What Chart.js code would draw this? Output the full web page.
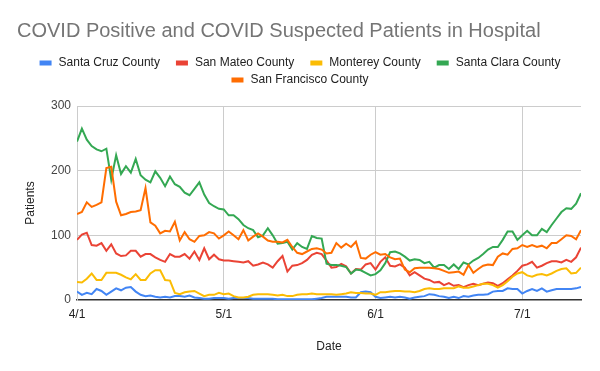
<!DOCTYPE html>
<html>
<head>
<meta charset="utf-8">
<script src="https://cdn.jsdelivr.net/npm/chart.js@4.4.1/dist/chart.umd.min.js"></script>
<style>
  html, body { margin: 0; padding: 0; background: #ffffff; }
  #wrap { width: 600px; height: 371px; position: relative; }
</style>
</head>
<body>
<div id="wrap"><canvas id="hospital-chart"></canvas></div>
<script>
// Daily counts from 4/1 to 7/13 (104 days)
const tickDays = [0, 30, 61, 91];
const tickLabels = ['4/1', '5/1', '6/1', '7/1'];

const santaCruz = [
  13, 8, 11, 9, 17, 14, 8, 13, 18, 15, 19, 20, 13, 8, 6, 7, 5, 4, 5, 4, 6, 6, 5, 7, 4, 3, 2, 2, 3, 3, 3, 2,
  3, 3, 3, 3, 2, 2, 2, 2, 2, 1, 1, 1, 1, 1, 1, 1, 1, 2, 3, 5, 5, 5, 5, 5, 4, 4, 12, 13, 12, 5,
  3, 4, 5, 4, 5, 4, 2, 4, 5, 6, 9, 8, 6, 5, 3, 5, 3, 6, 5, 7, 8, 8, 9, 13, 14, 14, 18, 17, 17, 10,
  14, 17, 14, 18, 13, 15, 17, 17, 17, 17, 18, 20
];
const sanMateo = [
  93, 101, 104, 85, 84, 88, 76, 86, 72, 68, 69, 76, 76, 67, 71, 71, 66, 62, 59, 71, 67, 67, 71, 64, 75, 62, 80, 63, 70, 63, 61, 61,
  60, 59, 58, 60, 53, 55, 58, 55, 50, 60, 68, 44, 53, 54, 57, 62, 70, 73, 71, 61, 50, 51, 56, 52, 41, 48, 47, 55, 57, 47,
  59, 66, 53, 52, 55, 50, 38, 43, 38, 33, 31, 27, 28, 23, 26, 22, 23, 20, 23, 25, 23, 25, 27, 26, 22, 26, 32, 38, 45, 53,
  55, 59, 50, 53, 57, 60, 60, 58, 62, 59, 66, 81
];
const monterey = [
  28, 27, 33, 41, 31, 31, 42, 42, 42, 39, 35, 32, 40, 31, 31, 41, 46, 46, 31, 30, 11, 9, 12, 13, 14, 10, 6, 8, 8, 11, 9, 10,
  6, 4, 4, 5, 8, 9, 9, 9, 8, 7, 8, 6, 6, 8, 9, 9, 10, 9, 9, 9, 9, 8, 9, 10, 12, 11, 11, 10, 10, 8,
  12, 12, 13, 14, 14, 13, 13, 12, 14, 17, 18, 17, 17, 18, 18, 18, 21, 19, 19, 21, 23, 25, 25, 23, 19, 23, 29, 36, 41, 43,
  38, 36, 39, 40, 38, 41, 45, 48, 49, 41, 42, 50
];
const santaClara = [
  245, 265, 248, 238, 233, 230, 234, 186, 224, 195, 207, 197, 218, 193, 186, 182, 199, 189, 176, 191, 179, 175, 166, 162, 172, 182, 163, 150, 145, 141, 140, 131,
  131, 125, 116, 111, 108, 97, 100, 111, 100, 87, 88, 90, 78, 88, 82, 79, 99, 96, 95, 56, 54, 54, 53, 51, 41, 47, 46, 42, 38, 40,
  46, 57, 74, 75, 72, 67, 61, 63, 62, 57, 59, 50, 54, 54, 48, 55, 48, 58, 55, 61, 65, 71, 78, 82, 82, 93, 106, 106, 93, 100,
  107, 100, 100, 110, 105, 116, 126, 136, 142, 141, 149, 165
];
const sanFrancisco = [
  133, 136, 151, 144, 147, 151, 204, 206, 152, 131, 133, 136, 137, 139, 173, 120, 115, 103, 107, 106, 121, 92, 105, 94, 90, 99, 100, 105, 103, 95,
  100, 106, 100, 94, 108, 92, 98, 103, 98, 92, 90, 90, 89, 93, 82, 73, 71, 75, 79, 80, 78, 72, 73, 88, 81, 87, 82, 90, 65, 64, 70, 74,
  70, 71, 66, 63, 64, 47, 43, 49, 50, 50, 50, 49, 48, 45, 42, 43, 44, 39, 54, 42, 48, 53, 55, 54, 67, 72, 70, 79, 80, 85,
  82, 85, 82, 84, 80, 88, 88, 94, 100, 99, 94, 108
];

const seriesNames = ['Santa Cruz County', 'San Mateo County', 'Monterey County', 'Santa Clara County', 'San Francisco County'];
const seriesColors = ['#4285f4', '#ea4335', '#fbbc04', '#34a853', '#ff6d01'];
const seriesValues = [santaCruz, sanMateo, monterey, santaClara, sanFrancisco];

const FONT = "'Liberation Sans', Arial, sans-serif";
Chart.defaults.font.family = FONT;

// Legend drawn by hand: the built-in one ties row spacing to item spacing,
// the original has wide item gaps but tight rows.
const rowLegend = {
  id: 'rowLegend',
  afterDraw(chart, args, opts) {
    const ctx = chart.ctx;
    ctx.save();
    ctx.font = opts.fontSize + 'px ' + FONT;
    ctx.textBaseline = 'middle';
    ctx.textAlign = 'left';

    const items = chart.data.datasets.map(ds => ({
      text: ds.label,
      color: ds.borderColor,
      width: opts.boxWidth + opts.boxGap + ctx.measureText(ds.label).width
    }));

    // wrap items into rows
    const rows = [];
    let row = [];
    let rowWidth = 0;
    items.forEach(item => {
      const extra = row.length ? opts.itemGap + item.width : item.width;
      if (row.length && rowWidth + extra > opts.maxWidth) {
        rows.push({ items: row, width: rowWidth });
        row = [item];
        rowWidth = item.width;
      } else {
        row.push(item);
        rowWidth += extra;
      }
    });
    if (row.length) rows.push({ items: row, width: rowWidth });

    rows.forEach((r, i) => {
      const y = opts.top + i * opts.rowHeight;
      let x = (chart.width - r.width) / 2;
      r.items.forEach(item => {
        ctx.fillStyle = item.color;
        ctx.fillRect(x, y - opts.boxHeight / 2, opts.boxWidth, opts.boxHeight);
        ctx.fillStyle = opts.color;
        ctx.fillText(item.text, x + opts.boxWidth + opts.boxGap, y);
        x += item.width + opts.itemGap;
      });
    });
    ctx.restore();
  }
};

const datasets = seriesValues.map((values, i) => ({
  label: seriesNames[i],
  data: values.map((v, day) => ({ x: day, y: v })),
  borderColor: seriesColors[i],
  backgroundColor: seriesColors[i],
  borderWidth: 2,
  pointRadius: 0,
  tension: 0,
  fill: false,
  order: seriesValues.length - i // later series drawn on top
}));

const ctx = document.getElementById('hospital-chart');
new Chart(ctx, {
  type: 'line',
  data: { datasets },
  plugins: [rowLegend],
  options: {
    responsive: true,
    maintainAspectRatio: false,
    animation: false,
    layout: {
      padding: { left: 17, right: 19, top: 0, bottom: 17 }
    },
    scales: {
      x: {
        type: 'linear',
        min: 0,
        max: santaCruz.length - 1,
        afterBuildTicks: (scale) => {
          scale.ticks = tickDays.map(v => ({ value: v }));
        },
        afterFit: (scale) => { scale.height = 54; },
        ticks: {
          color: '#222222',
          font: { size: 12 },
          padding: 7,
          maxRotation: 0,
          autoSkip: false,
          callback: (value) => tickLabels[tickDays.indexOf(value)]
        },
        grid: { color: '#cccccc', drawTicks: false },
        border: { color: '#333333', width: 1.5 },
        title: {
          display: true,
          text: 'Date',
          color: '#222222',
          font: { size: 12 },
          padding: { top: 0, bottom: 0 }
        }
      },
      y: {
        min: 0,
        max: 300,
        afterFit: (scale) => { scale.width = 60; },
        ticks: {
          stepSize: 100,
          color: '#444444',
          font: { size: 12 },
          padding: 6
        },
        grid: {
          color: (c) => c.tick && c.tick.value === 0 ? 'rgba(0,0,0,0)' : '#cccccc',
          drawTicks: false
        },
        border: { color: '#cccccc', width: 1 },
        title: {
          display: true,
          text: 'Patients',
          color: '#222222',
          font: { size: 12 },
          padding: { top: 6, bottom: 0 }
        }
      }
    },
    plugins: {
      title: {
        display: true,
        text: 'COVID Positive and COVID Suspected Patients in Hospital',
        align: 'start',
        color: '#757575',
        font: { size: 20, weight: 'normal' },
        padding: { top: 19, bottom: 63 }
      },
      legend: { display: false },
      rowLegend: {
        top: 63,
        rowHeight: 17,
        fontSize: 12,
        color: '#222222',
        boxWidth: 12,
        boxHeight: 5,
        boxGap: 7,
        itemGap: 16,
        maxWidth: 560
      },
      tooltip: { enabled: false }
    }
  }
});
</script>
</body>
</html>
